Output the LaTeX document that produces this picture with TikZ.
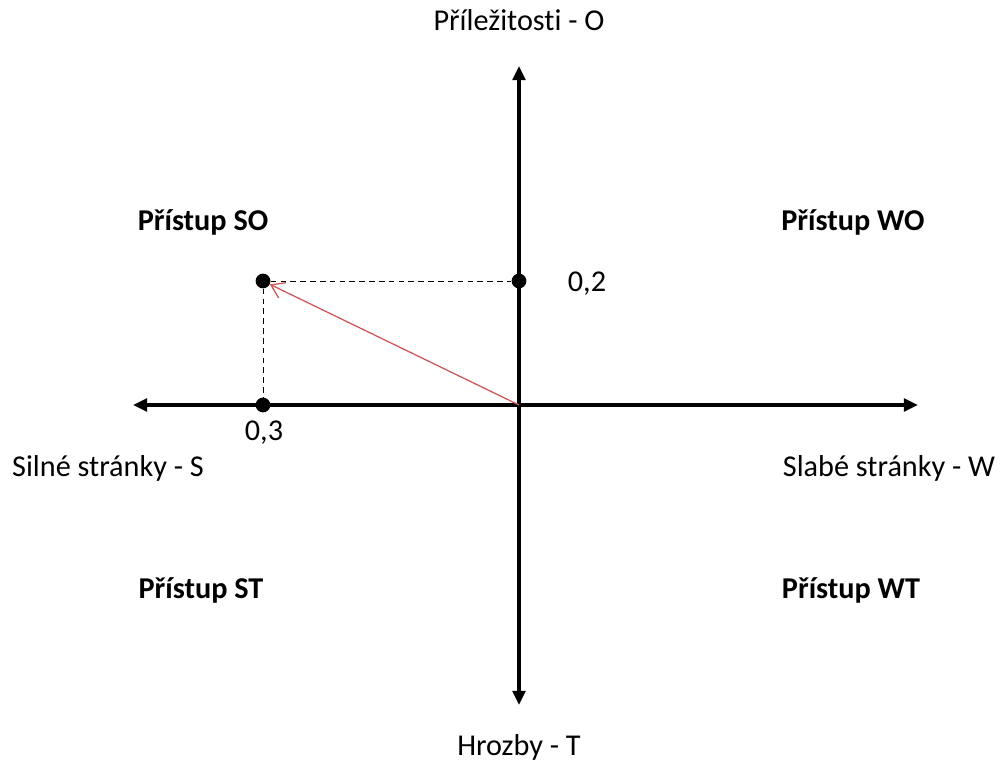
\documentclass[tikz,border=0pt]{standalone}
\usepackage{fontspec}
\setmainfont{Carlito}[Ligatures={NoCommon}]
\usetikzlibrary{arrows.meta}
\definecolor{vecred}{RGB}{205,85,85}
\tikzset{
  axis/.style={line width=2.2pt, -{Triangle[length=10pt,width=9pt]}},
  dot/.style={circle, fill=black, inner sep=0pt, minimum size=10.5pt},
  lbl/.style={font=\fontsize{21.5}{24}\selectfont},
  quad/.style={font=\fontsize{21.5}{24}\selectfont\bfseries},
  guide/.style={dashed, line width=0.7pt, dash pattern=on 4pt off 3pt}
}
\begin{document}
\begin{tikzpicture}[x=0.025cm, y=-0.025cm]
  \useasboundingbox (0,0) rectangle (1002,762);

  % Axes
  \coordinate (o) at (519,405);
  \coordinate (top) at (519,66);
  \coordinate (bot) at (519,705);
  \coordinate (lft) at (133,405);
  \coordinate (rgt) at (918,405);
  \draw[axis] (o) -- (top);
  \draw[axis] (o) -- (bot);
  \draw[axis] (o) -- (lft);
  \draw[axis] (o) -- (rgt);

  % Axis labels
  \node[lbl] (opp) at (519,20) {Příležitosti - O};
  \node[lbl] (thr) at (519,747) {Hrozby - T};
  \node[lbl] (str) at (108,468) {Silné stránky - S};
  \node[lbl] (wea) at (889,468) {Slabé stránky - W};

  % Quadrants
  \node[quad] (so) at (203,222) {Přístup SO};
  \node[quad] (wo) at (853,222) {Přístup WO};
  \node[quad] (st) at (201,590) {Přístup ST};
  \node[quad] (wt) at (851,590) {Přístup WT};

  % Point and projections
  \node[dot] (p) at (263,281) {};
  \node[dot] (px) at (263,405) {};
  \node[dot] (py) at (519,281) {};
  \draw[guide] (p) -- (px);
  \draw[guide] (p) -- (py);
  \node[lbl] (vx) at (264,433) {0,3};
  \node[lbl] (vy) at (587,284) {0,2};

  % Resulting vector
  \draw[vecred, line width=0.9pt, -{Straight Barb[length=9pt,width=12pt]}] (o) -- (p);
\end{tikzpicture}
\end{document}
